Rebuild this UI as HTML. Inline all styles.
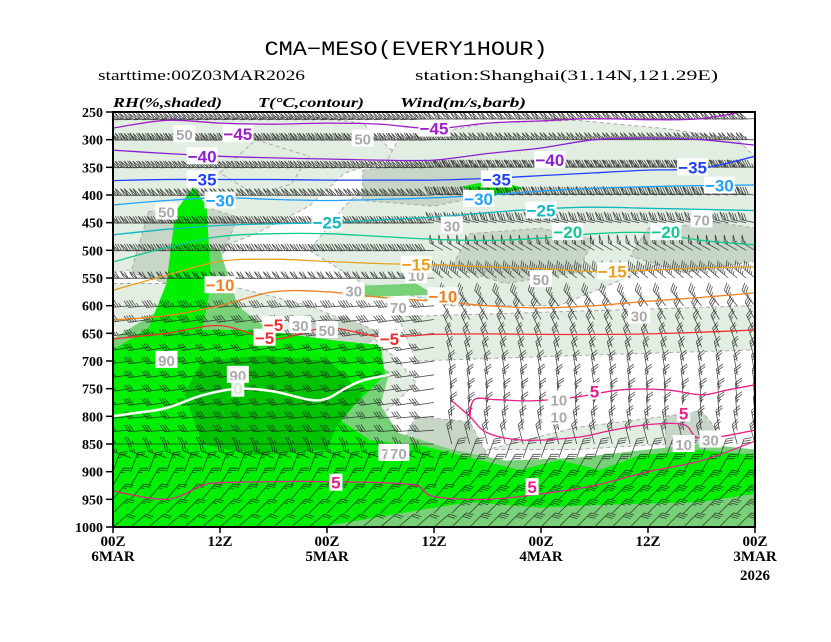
<!DOCTYPE html>
<html><head><meta charset="utf-8">
<style>
html,body{margin:0;padding:0;background:#fff;}
svg{display:block;}
</style></head>
<body>
<svg id="chart" width="831" height="642" viewBox="0 0 831 642" xmlns="http://www.w3.org/2000/svg" font-family="Liberation Sans, sans-serif">
<rect x="0" y="0" width="831" height="642" fill="#fff"/>
<text x="406" y="55" text-anchor="middle" font-family="Liberation Mono, monospace" font-size="20" textLength="283" lengthAdjust="spacingAndGlyphs">CMA−MESO(EVERY1HOUR)</text>
<text x="98" y="80" font-family="Liberation Serif, serif" font-size="15" textLength="207" lengthAdjust="spacingAndGlyphs">starttime:00Z03MAR2026</text>
<text x="415" y="80" font-family="Liberation Serif, serif" font-size="15" textLength="303" lengthAdjust="spacingAndGlyphs">station:Shanghai(31.14N,121.29E)</text>
<text x="113" y="107" font-family="Liberation Serif, serif" font-style="italic" font-weight="bold" font-size="14" textLength="109" lengthAdjust="spacingAndGlyphs">RH(%,shaded)</text>
<text x="258" y="107" font-family="Liberation Serif, serif" font-style="italic" font-weight="bold" font-size="14" textLength="106" lengthAdjust="spacingAndGlyphs">T(°C,contour)</text>
<text x="400" y="107" font-family="Liberation Serif, serif" font-style="italic" font-weight="bold" font-size="14" textLength="126" lengthAdjust="spacingAndGlyphs">Wind(m/s,barb)</text>
<defs><clipPath id="plotclip"><rect x="113" y="112" width="642" height="415"/></clipPath></defs>
<g id="shade" clip-path="url(#plotclip)"></g>
<g id="barbs" clip-path="url(#plotclip)"></g>
<g id="temps" clip-path="url(#plotclip)"></g>
<g id="labels" clip-path="url(#plotclip)"></g>
<rect x="113" y="112" width="642" height="415" fill="none" stroke="#000" stroke-width="2"/>
<g id="axes"></g>
</svg>
<script>
// ---- axis tick data ----
const pTicks = [250,300,350,400,450,500,550,600,650,700,750,800,850,900,950,1000];
const tTicks = [72,60,48,36,24,12,0];
const tLabel1 = ["00Z","12Z","00Z","12Z","00Z","12Z","00Z"];
const tLabel2 = ["6MAR","","5MAR","","4MAR","","3MAR"];
const tLabel3 = ["","","","","","","2026"];

// ---- isotherm data (pressure hPa at hours 0,6,...,72 from start) ----
const isoHours = [0,6,12,18,24,30,36,42,48,54,60,66,72];
const isoTemps = [-45,-40,-35,-30,-25,-20,-15,-10,-5];
const isoM45 = [245,262,264,262,266,270,280,272,270,272,270,265,279];
const isoM40 = [310,300,297,300,315,325,337,337,335,333,330,325,319];
const isoM35 = [330,352,355,360,365,370,373,373,373,372,372,372,374];
const isoM30 = [382,383,385,388,393,400,405,408,410,408,405,410,418];
const isoM25 = [428,426,424,422,425,432,440,445,450,452,455,462,472];
const isoM20 = [490,482,468,470,478,482,480,475,470,470,475,495,521];
const isoM15 = [530,532,536,538,533,530,526,524,520,516,520,545,572];
const isoM10 = [577,585,592,600,604,600,592,585,575,575,600,618,626];
const isoM5  = [644,648,651,652,652,651,652,656,640,660,636,650,660];
const isoZeroHours = [41,44,46,48,50,54,58,62,66,70,72];
const isoZero = [725,735,750,768,770,755,750,762,785,795,800];
const isoP5aHours = [72,66,62,60,54,48,42,38,36,30,24,18,12,6,0];
const isoP5a = [935,950,925,920,918,918,920,925,945,950,940,925,900,880,845];
const isoP5bHours = [32,31.5,29,25,20,15,10,6,3,0];
const isoP5b = [806,770,770,772,765,752,752,761,752,743];
const isoP5cHours = [34,32,30,26,20,16,12,8,6,0];
const isoP5c = [772,800,830,843,838,825,815,815,840,825];
const isoColors = ["#a020c8","#8a20d0","#2040ff","#20a0ff","#10b8c0","#10c890","#e8a020","#f08020","#f03030"];

// ---- wind data per level ----
const windLevels = [262,300,350,400,450,500,550,600,625,650,675,700,725,750,775,800,825,850,875,900,925,950,975,1000];
const windSpdWest = [44,48,44,40,34,28,24,18,16,14,12,12,12,12,12,12,12,10,10,10,10,10,10,8];
const windDirWest = [265,268,268,268,268,268,268,265,262,262,260,262,262,262,262,264,266,270,290,20,30,40,45,50];
const windSpdEast = [40,42,38,32,28,22,18,14,12,10,10,10,10,10,10,10,10,10,12,12,14,14,14,12];
const windDirEast = [268,270,272,275,282,300,310,320,330,335,340,345,350,352,355,355,350,345,20,30,40,45,45,45];

// ---- RH shading polygons [hour, hPa] pairs ----
const rhLight = [
 [[72,264],[60,262],[50,258],[44,270],[40,330],[46,360],[50,420],[56,470],[64,520],[72,540]],
 [[40,300],[30,270],[20,265],[10,280],[2,300],[0,330],[0,470],[10,520],[22,600],[34,600],[44,560],[50,500],[46,420],[42,360]],
 [[72,560],[60,560],[50,600],[44,640],[40,700],[38,740],[42,800],[44,900],[72,900]],
 [[40,620],[20,610],[0,600],[0,680],[20,690],[38,700]],
 [[56,300],[50,330],[52,380],[56,400],[60,360]],
 [[30,860],[20,860],[10,850],[4,820],[10,800],[20,820]]
];
const rhGray = [
 [[44,355],[36,340],[30,350],[30,400],[36,420],[44,410]],
 [[12,460],[4,450],[0,460],[0,520],[8,540],[14,510]],
 [[32,470],[24,460],[18,480],[20,540],[28,560],[34,530]],
 [[68,430],[62,420],[58,440],[60,520],[66,560],[70,540]],
 [[38,800],[32,810],[30,870],[36,880],[40,860]],
 [[10,800],[6,790],[4,830],[6,880],[10,870]],
 [[52,640],[46,620],[42,650],[46,700],[52,690]]
];
const rhMid = [
 [[72,660],[66,600],[64,480],[60,500],[58,600],[54,650],[48,660],[44,690],[41,720],[42,780],[40,830],[34,860],[28,880],[20,875],[12,860],[6,850],[0,860],[0,1000],[72,1000]],
 [[46,565],[38,560],[36,580],[44,585]]
];
const rhGreen = [
 [[72,680],[68,640],[66,560],[65,430],[63,385],[61.5,420],[61,560],[62,644],[55.5,644],[47.7,662],[42,671],[41.5,725],[44.3,770],[46.5,807],[43.2,843],[37.6,852],[33.1,870],[26.4,897],[21.9,879],[17.4,897],[12.9,870],[6.2,861],[0,870],[0,940],[6.2,955],[17.4,960],[24.1,965],[32,955],[39.8,975],[48.8,1000],[72,1000]],
 [[33,385],[29,372],[26,388],[30,405]]
];
const rhDark = [
 [[62,700],[55,690],[47.7,700],[44,760],[47,820],[48,860],[56,870],[62,850],[64,760]]
];

// ---- RH label data ----
const rhLabelText = ["50","50","30","70","50","70","30","10","30","50","70","90","90","10","10","10","70","50","30","30"];
const rhLabelHour = [64,44,34,6,24,40,45,38,51,48,41,66,58,22,8,22,40,66,13,5];
const rhLabelP    = [290,298,455,444,552,602,573,545,635,644,866,698,725,770,850,800,866,430,618,842];

const tx = t => 755 - t*642/72;
const py = p => 112 + (p-250)*415/750;
const NS = "http://www.w3.org/2000/svg";
function mk(tag, parent, attrs){const e=document.createElementNS(NS,tag);for(const k in attrs)e.setAttribute(k,attrs[k]);parent.appendChild(e);return e;}

// shading
const shade = document.getElementById('shade');
function drawPolys(list, fill, name, dashed){
  list.forEach(poly=>{
    const pts = poly.map(v=>tx(v[0]).toFixed(1)+','+py(v[1]).toFixed(1)).join(' ');
    const el = mk('polygon', shade, {points:pts, fill:fill, stroke: dashed?'#aaa':'none', 'stroke-width':1, 'stroke-dasharray':'4,3', 'stroke-linejoin':'round'});
    
    
  });
}
drawPolys(rhLight, '#e2eee2', 'rh-light-region', true);
drawPolys(rhGray, '#c8d6c8', 'rh-gray-region', true);
drawPolys(rhMid, '#78d078', 'rh-mid-green-region', false);
drawPolys(rhGreen, '#00ee00', 'rh-green-region', false);
drawPolys(rhDark, '#00c400', 'rh-dark-green-region', false);

// wind barbs
const barbs = document.getElementById('barbs');
windLevels.forEach((p,li)=>{
  let d='';
  const step = p>=600 ? 2 : 1;
  const L = p>=600 ? 20 : 15;
  for(let t=0;t<=72;t+=step){
    const spd = t<36 ? windSpdEast[li] : windSpdWest[li];
    const dir = (t<36 ? windDirEast[li] : windDirWest[li]) * Math.PI/180;
    const x0=tx(t), y0=py(p);
    const ux=Math.sin(dir), uy=-Math.cos(dir);
    const x1=x0+ux*L, y1=y0+uy*L;
    d+=`M${x0.toFixed(1)},${y0.toFixed(1)}L${x1.toFixed(1)},${y1.toFixed(1)}`;
    const a=dir+60*Math.PI/180;
    const fx=Math.sin(a)*8, fy=-Math.cos(a)*8;
    let rem=spd, pos=0;
    while(rem>=20){const bx=x1-ux*pos,by=y1-uy*pos;const cx=x1-ux*(pos+3),cy=y1-uy*(pos+3);
      d+=`M${bx.toFixed(1)},${by.toFixed(1)}L${(bx+fx).toFixed(1)},${(by+fy).toFixed(1)}L${cx.toFixed(1)},${cy.toFixed(1)}`;rem-=20;pos+=3.5;}
    while(rem>=4){const bx=x1-ux*pos,by=y1-uy*pos;d+=`M${bx.toFixed(1)},${by.toFixed(1)}l${fx.toFixed(1)},${fy.toFixed(1)}`;rem-=4;pos+=2.5;}
    if(rem>=2){const bx=x1-ux*pos,by=y1-uy*pos;d+=`M${bx.toFixed(1)},${by.toFixed(1)}l${(fx/2).toFixed(1)},${(fy/2).toFixed(1)}`;}
  }
  const el = mk('path', barbs, {d:d, stroke:'#222', 'stroke-width':0.8, fill:'none', opacity:0.8});
  
  
});

// isotherms
const temps = document.getElementById('temps');
function smoothPath(hours, ps){
  const pts = hours.map((h,i)=>[tx(h),py(ps[i])]);
  let d=`M${pts[0][0].toFixed(1)},${pts[0][1].toFixed(1)}`;
  for(let i=0;i<pts.length-1;i++){
    const p0=pts[i-1]||pts[i], p1=pts[i], p2=pts[i+1], p3=pts[i+2]||p2;
    const c1=[p1[0]+(p2[0]-p0[0])/6, p1[1]+(p2[1]-p0[1])/6];
    const c2=[p2[0]-(p3[0]-p1[0])/6, p2[1]-(p3[1]-p1[1])/6];
    d+=`C${c1[0].toFixed(1)},${c1[1].toFixed(1)} ${c2[0].toFixed(1)},${c2[1].toFixed(1)} ${p2[0].toFixed(1)},${p2[1].toFixed(1)}`;
  }
  return d;
}
const isoSeries=[isoM45,isoM40,isoM35,isoM30,isoM25,isoM20,isoM15,isoM10,isoM5];
isoSeries.forEach((s,i)=>{
  const el = mk('path', temps, {d:smoothPath(isoHours,s), stroke:isoColors[i], 'stroke-width':1.3, fill:'none'});
  
  
});
{
  const el = mk('path', temps, {d:smoothPath(isoZeroHours,isoZero), stroke:'#fff', 'stroke-width':2.5, fill:'none'});
  
  
}
[[isoP5aHours,isoP5a],[isoP5bHours,isoP5b],[isoP5cHours,isoP5c]].forEach((pair,i)=>{
  const el = mk('path', temps, {d:smoothPath(pair[0],pair[1]), stroke:'#e8208a', 'stroke-width':1.3, fill:'none'});
  
  
});

// labels
const labels = document.getElementById('labels');
function lab(txt, h, p, color, name, size){
  const x=tx(h), y=py(p);
  const w=txt.length*9+4;
  const r=mk('rect', labels, {x:x-w/2, y:y-9, width:w, height:17, fill:'#fff'});
  
  
  const t=mk('text', labels, {x:x, y:y+6, 'text-anchor':'middle', 'font-size':size||17, 'font-weight':'bold', fill:color});
  t.textContent=txt;
  
  
}
rhLabelText.forEach((s,i)=>lab(s, rhLabelHour[i], rhLabelP[i], '#aaa', 'rh-label', 15));
const tLabText=["-45","-40","-35","-30","-25","-20","-15","-10","-5","-45","-40","-35","-30","-35","-30","-25","-20","-15","-10","-5","-5","5","5","5","5","0"];
const tLabHour=[36,23,29,31,48,21,38,35,54,58,62,62,60,7,4,24,10,16,60,55,41,47,25,8,18,58];
const tLabP=[280,337,372,407,450,467,526,583,635,290,330,372,410,350,383,428,467,538,563,658,660,920,928,795,755,750];
const tLabColor=["#a020c8","#8a20d0","#2040ff","#20a0ff","#10b8c0","#10c890","#e8a020","#f08020","#f03030","#a020c8","#8a20d0","#2040ff","#20a0ff","#2040ff","#20a0ff","#10b8c0","#10c890","#e8a020","#f08020","#f03030","#f03030","#e8208a","#e8208a","#e8208a","#e8208a","#cfe8cf"];
tLabText.forEach((s,i)=>lab(s.replace('-','−'), tLabHour[i], tLabP[i], tLabColor[i], 'temp-label', 17));

// axes
const axes = document.getElementById('axes');
pTicks.forEach(p=>{
  const y=py(p);
  const l=mk('line', axes, {x1:106, y1:y, x2:113, y2:y, stroke:'#000', 'stroke-width':1.5});
  
  
  const t=mk('text', axes, {x:103, y:y+5, 'text-anchor':'end', 'font-size':14, 'font-weight':'bold', 'font-family':'Liberation Serif, serif'});
  t.textContent=p;
  
  
});
tTicks.forEach((h,i)=>{
  const x=tx(h);
  const l=mk('line', axes, {x1:x, y1:527, x2:x, y2:533, stroke:'#000', 'stroke-width':1.5});
  
  
  [[tLabel1[i],546],[tLabel2[i],561],[tLabel3[i],580]].forEach(v=>{
    if(!v[0])return;
    const t=mk('text', axes, {x:x, y:v[1], 'text-anchor':'middle', 'font-size':15, 'font-weight':'bold', 'font-family':'Liberation Serif, serif'});
    t.textContent=v[0];
    
    
  });
});
</script>
</body></html>
